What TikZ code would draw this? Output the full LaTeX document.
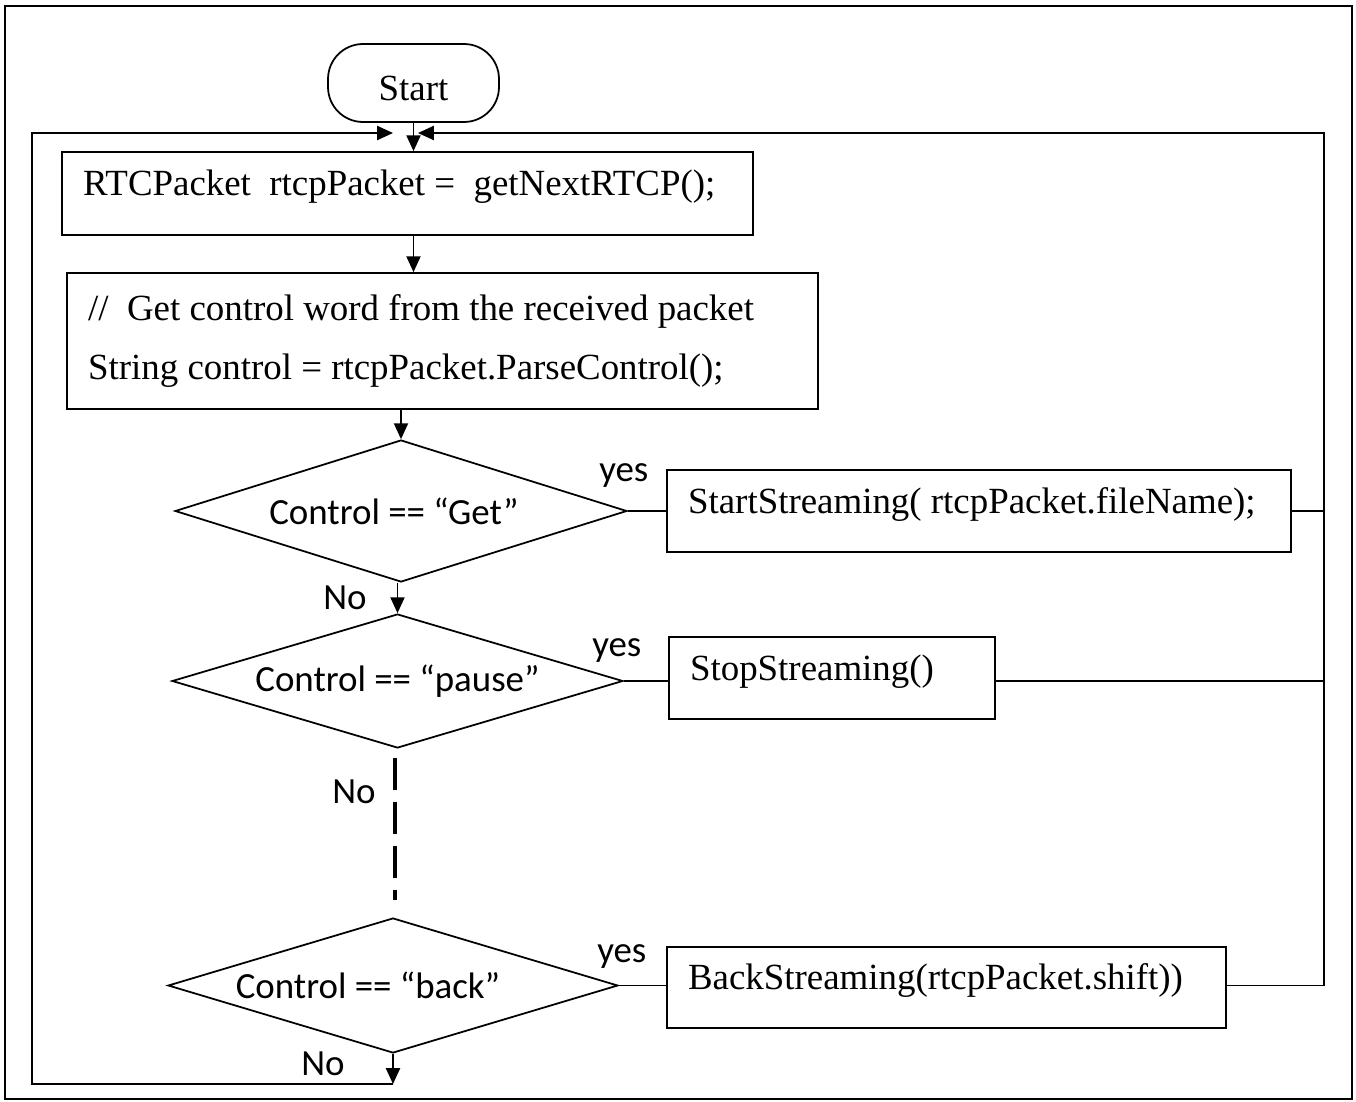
\documentclass[tikz,border=0pt]{standalone}
\usepackage{fontspec}
\setmainfont{Liberation Serif}
\newfontfamily\calibri{Carlito}
\usetikzlibrary{shapes.geometric,arrows.meta}

\tikzset{
  term/.style={draw, rectangle, rounded corners=0.7cm, minimum width=3.42cm,
    minimum height=1.56cm, text height=20pt, font=\fontsize{21}{25}\selectfont},
  proc/.style={draw, rectangle, inner xsep=0.42cm, inner ysep=0pt, align=flush left,
    font=\fontsize{21}{34}\selectfont},
  decision/.style={draw, diamond, aspect=3.2, inner sep=0pt,
    font=\calibri\fontsize{21}{25}\selectfont},
  lbl/.style={inner sep=0pt, font=\calibri\fontsize{21}{25}\selectfont},
  arr/.style={-{Triangle[length=9pt,width=8pt]}},
}

\begin{document}
\begin{tikzpicture}[x=0.02cm, y=-0.02cm, line width=1pt]

    \useasboundingbox (0,0) rectangle (1356,1102);
    \draw (5,6) rectangle (1352,1099);

    % Define nodes
    \node[term]                                          (start)  at (413.5,83)    {Start};
    \node[proc, text width=12.98cm, minimum height=1.66cm, text depth=12pt]
                                                         (fetch)  at (407.5,193.5) {RTCPacket\ \ rtcpPacket = \ getNextRTCP();};
    \node[proc, text width=14.18cm, minimum height=2.72cm] (parse) at (442.5,341)
         {//\ \ Get control word from the received packet\\ String control = rtcpPacket.ParseControl();};

    \node[decision, minimum width=9.04cm, minimum height=2.84cm] (getq)   at (401,511)    {Control == “Get”\hspace*{0.28cm}};
    \node[decision, minimum width=9.02cm, minimum height=2.68cm] (pauseq) at (397.5,681)  {Control == “pause”};
    \node[decision, minimum width=9.00cm, minimum height=2.70cm] (backq)  at (393,985.5)  {Control == “back”\hspace*{1cm}};

    \node[proc, text width=11.64cm, minimum height=1.64cm, text depth=12pt] (startS) at (979,511)    {StartStreaming( rtcpPacket.fileName);};
    \node[proc, text width=5.68cm,  minimum height=1.64cm, text depth=12pt] (stopS)  at (832,678)    {StopStreaming()};
    \node[proc, text width=10.34cm, minimum height=1.62cm, text depth=12pt] (backS)  at (946.5,987.5) {BackStreaming(rtcpPacket.shift))};

    % Labels
    \node[lbl, xshift=-0.08cm, yshift=0.70cm] (yes1) at (getq.east)    {yes};
    \node[lbl, xshift=-0.14cm, yshift=0.60cm] (yes2) at (pauseq.east)  {yes};
    \node[lbl, xshift=0.06cm,  yshift=0.57cm] (yes3) at (backq.east)   {yes};
    \node[lbl, xshift=-1.12cm, yshift=-0.30cm] (no1) at (getq.south)   {No};
    \node[lbl, xshift=-0.87cm, yshift=-0.86cm] (no2) at (pauseq.south) {No};
    \node[lbl, xshift=-1.40cm, yshift=-0.20cm] (no3) at (backq.south)  {No};

    % Loop corners
    \coordinate (botL) at (32,1084);
    \coordinate (topL) at (32,133);
    \coordinate (topR) at (1324,133);
    \coordinate (inL)  at (393,133);
    \coordinate (inR)  at (418,133);
    \coordinate (gap)  at (395,900);

    % Connect the nodes
    \draw[arr] (start.south) -- (start.south |- fetch.north);
    \draw[arr] (start.south |- fetch.south) -- (start.south |- parse.north);
    \draw[arr] (getq.north |- parse.south) -- (getq.north);
    \draw[arr] (pauseq.north |- getq.south) -- (pauseq.north);
    \draw[line width=2pt, dash pattern=on 0.64cm off 0.24cm, dash phase=0.7cm] (gap |- pauseq.south) -- (gap);

    \draw (getq.east) -- (startS.west);
    \draw (startS.east) -- (startS.east -| topR);
    \draw (pauseq.east) -- (pauseq.east -| stopS.west);
    \draw (pauseq.east -| stopS.east) -- (pauseq.east -| topR);
    \draw (backq.east) -- (backq.east -| backS.west);
    \draw[arr] (backq.east -| backS.east) -- (backq.east -| topR) -- (topR) -- (inR);

    \draw[arr] (backq.south) -- (backq.south |- botL);
    \draw[arr] (backq.south |- botL) -- (botL) -- (topL) -- (inL);

\end{tikzpicture}
\end{document}
